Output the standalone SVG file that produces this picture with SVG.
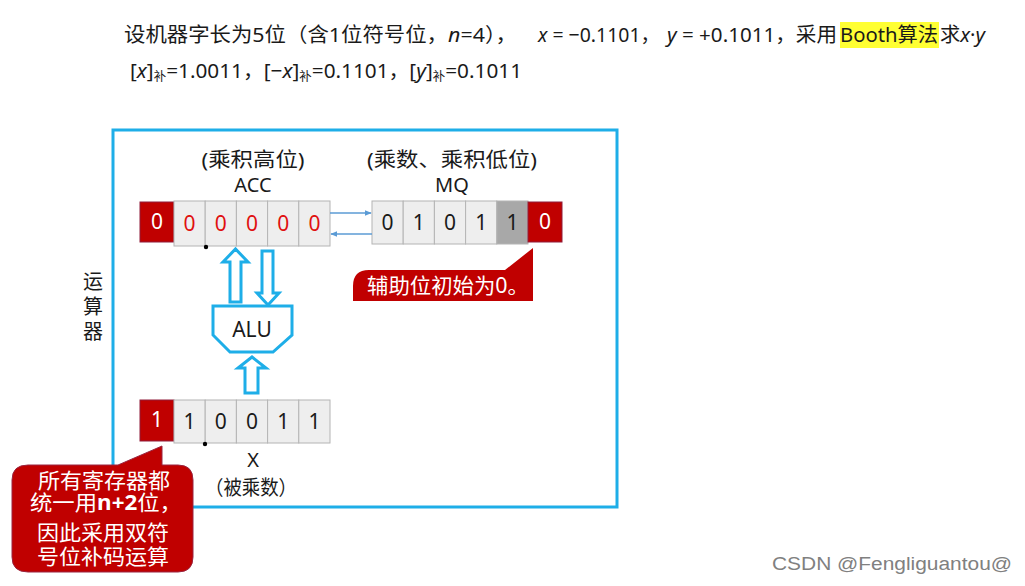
<svg xmlns="http://www.w3.org/2000/svg" width="1025" height="586" viewBox="0 0 1025 586">
<style>
.t{font-family:"Noto Sans","Noto Sans CJK SC",sans-serif;fill:#1a1a1a;font-size:20px}
.cell{fill:#eeeeee;stroke:#b4b4b4;stroke-width:1}
.dark{fill:#a8a8a8;stroke:#b4b4b4;stroke-width:1}
.red{fill:#c00000;stroke:#8f1d3a;stroke-width:1}
.d{font-family:"Noto Sans","Liberation Sans",sans-serif;font-size:21px;text-anchor:middle}
.lab{font-family:"Noto Sans","Noto Sans CJK SC",sans-serif;font-size:20px;text-anchor:middle;fill:#1a1a1a}
.blk{fill:#ffffff;stroke:#1eaee8;stroke-width:3}
.w{fill:#ffffff}
.cw{font-family:"Noto Sans","Noto Sans CJK SC",sans-serif;font-size:21px;fill:#ffffff}
.i{font-style:italic}
</style>
<defs>
<marker id="ah" viewBox="0 0 10 10" refX="9" refY="5" markerWidth="7" markerHeight="7" orient="auto" markerUnits="userSpaceOnUse"><path d="M0,1 L10,5 L0,9 Z" fill="#5b9bd5"/></marker>
</defs>
<rect width="1025" height="586" fill="#ffffff"/>

<g id="title">
<rect x="840" y="22" width="99" height="26" fill="#ffff33"/>
<text class="t" x="124" y="42" textLength="393" lengthAdjust="spacingAndGlyphs">设机器字长为5位（含1位符号位，<tspan class="i">n</tspan>=4），</text>
<text class="t" x="538" y="42" textLength="122" lengthAdjust="spacingAndGlyphs"><tspan class="i">x</tspan> = −0.1101，</text>
<text class="t" x="667" y="42" textLength="170" lengthAdjust="spacingAndGlyphs"><tspan class="i">y</tspan> = +0.1011，采用</text>
<text class="t" x="840" y="42" textLength="98" lengthAdjust="spacingAndGlyphs">Booth算法</text>
<text class="t" x="940" y="42" textLength="45" lengthAdjust="spacingAndGlyphs">求<tspan class="i">x</tspan>·<tspan class="i">y</tspan></text>
<text class="t" x="130" y="78" textLength="392" lengthAdjust="spacingAndGlyphs">[<tspan class="i">x</tspan>]<tspan font-size="12" dy="3">补</tspan><tspan dy="-3">=1.0011，[−</tspan><tspan class="i">x</tspan>]<tspan font-size="12" dy="3">补</tspan><tspan dy="-3">=0.1101，[</tspan><tspan class="i">y</tspan>]<tspan font-size="12" dy="3">补</tspan><tspan dy="-3">=0.1011</tspan></text>
</g>

<g id="box">
<rect x="113" y="130" width="504" height="377" fill="none" stroke="#1eaee8" stroke-width="3"/>
</g>

<g id="label-yunsuanqi">
<text class="lab" x="93" y="289">运</text>
<text class="lab" x="93" y="314">算</text>
<text class="lab" x="93" y="339">器</text>
</g>

<g id="acc">
<text class="lab" x="253" y="167" textLength="103" lengthAdjust="spacingAndGlyphs">(乘积高位)</text>
<text class="lab" x="253" y="192">ACC</text>
<rect class="red" x="140" y="202" width="34" height="40"/>
<text class="d w" x="157" y="229">0</text>
<rect class="cell" x="174" y="201" width="31.2" height="45"/>
<rect class="cell" x="205.2" y="201" width="31.2" height="45"/>
<rect class="cell" x="236.4" y="201" width="31.2" height="45"/>
<rect class="cell" x="267.6" y="201" width="31.2" height="45"/>
<rect class="cell" x="298.8" y="201" width="31.2" height="45"/>
<g class="d" fill="#e01010">
<text x="189.6" y="231">0</text>
<text x="220.8" y="231">0</text>
<text x="252" y="231">0</text>
<text x="283.2" y="231">0</text>
<text x="314.4" y="231">0</text>
</g>
<circle cx="206" cy="247" r="2.2" fill="#000"/>
</g>

<g id="mq">
<text class="lab" x="452" y="167" textLength="170" lengthAdjust="spacingAndGlyphs">(乘数、乘积低位)</text>
<text class="lab" x="452" y="192">MQ</text>
<rect class="cell" x="372" y="201" width="31.2" height="43"/>
<rect class="cell" x="403.2" y="201" width="31.2" height="43"/>
<rect class="cell" x="434.4" y="201" width="31.2" height="43"/>
<rect class="cell" x="465.6" y="201" width="31.2" height="43"/>
<rect class="dark" x="496.8" y="201" width="31.2" height="43"/>
<rect class="red" x="528" y="202" width="34" height="40"/>
<g class="d" fill="#1a1a1a">
<text x="387.6" y="230">0</text>
<text x="418.8" y="230">1</text>
<text x="450" y="230">0</text>
<text x="481.2" y="230">1</text>
<text x="512.4" y="230">1</text>
</g>
<text class="d w" x="545" y="229">0</text>
</g>

<g id="connectors">
<line x1="330" y1="213" x2="371" y2="213" stroke="#5b9bd5" stroke-width="1.5" marker-end="url(#ah)"/>
<line x1="372" y1="234" x2="331" y2="234" stroke="#5b9bd5" stroke-width="1.5" marker-end="url(#ah)"/>
<path class="blk" d="M230,302 L230,262 L223,262 L235.5,249 L248,262 L241,262 L241,302 Z"/>
<path class="blk" d="M262,251 L273,251 L273,293 L279,293 L268,305 L257,293 L262,293 Z"/>
<path class="blk" d="M245,393 L245,368 L238,368 L252,357 L266,368 L258,368 L258,393 Z"/>
</g>

<g id="alu">
<path d="M213,306 L292,306 L292,335 L273,352 L230,352 L213,335 Z" fill="#ffffff" stroke="#1eaee8" stroke-width="3"/>
<text class="d" x="252" y="337" font-size="19" fill="#1a1a1a">ALU</text>
</g>

<g id="x-reg">
<rect class="red" x="140" y="400" width="34" height="41"/>
<text class="d w" x="157" y="427">1</text>
<rect class="cell" x="174" y="400" width="31.2" height="43"/>
<rect class="cell" x="205.2" y="400" width="31.2" height="43"/>
<rect class="cell" x="236.4" y="400" width="31.2" height="43"/>
<rect class="cell" x="267.6" y="400" width="31.2" height="43"/>
<rect class="cell" x="298.8" y="400" width="31.2" height="43"/>
<g class="d" fill="#1a1a1a">
<text x="189.6" y="429">1</text>
<text x="220.8" y="429">0</text>
<text x="252" y="429">0</text>
<text x="283.2" y="429">1</text>
<text x="314.4" y="429">1</text>
</g>
<circle cx="205" cy="444" r="2.2" fill="#000"/>
<text class="lab" x="253" y="467">X</text>
<text class="lab" x="251" y="495" textLength="92" lengthAdjust="spacingAndGlyphs">（被乘数）</text>
</g>

<g id="callout-aux">
<path d="M353,301 L353,286 Q353,270 369,270 L505,270 L533,248 L533,301 Z" fill="#c00000"/>
<text class="cw" x="367" y="293" textLength="162" lengthAdjust="spacingAndGlyphs">辅助位初始为0。</text>
</g>

<g id="callout-regs">
<path d="M28,465 L118,465 L162,446 L162,465 L178,465 Q193,465 193,480 L193,557 Q193,572 178,572 L28,572 Q12,572 12,557 L12,480 Q12,465 28,465 Z" fill="#c00000" stroke="#9a2540" stroke-width="1"/>
<g class="cw" text-anchor="middle" font-size="20">
<text x="104" y="488" textLength="132" lengthAdjust="spacingAndGlyphs">所有寄存器都</text>
<text x="106" y="510" textLength="152" lengthAdjust="spacingAndGlyphs">统一用<tspan font-weight="bold">n+2</tspan>位，</text>
<text x="103" y="540" textLength="132" lengthAdjust="spacingAndGlyphs">因此采用双符</text>
<text x="103" y="564" textLength="132" lengthAdjust="spacingAndGlyphs">号位补码运算</text>
</g>
</g>

<text x="772" y="570" font-family="'Liberation Sans',sans-serif" font-size="18" fill="#808080" textLength="240" lengthAdjust="spacingAndGlyphs">CSDN @Fengliguantou@</text>
</svg>
